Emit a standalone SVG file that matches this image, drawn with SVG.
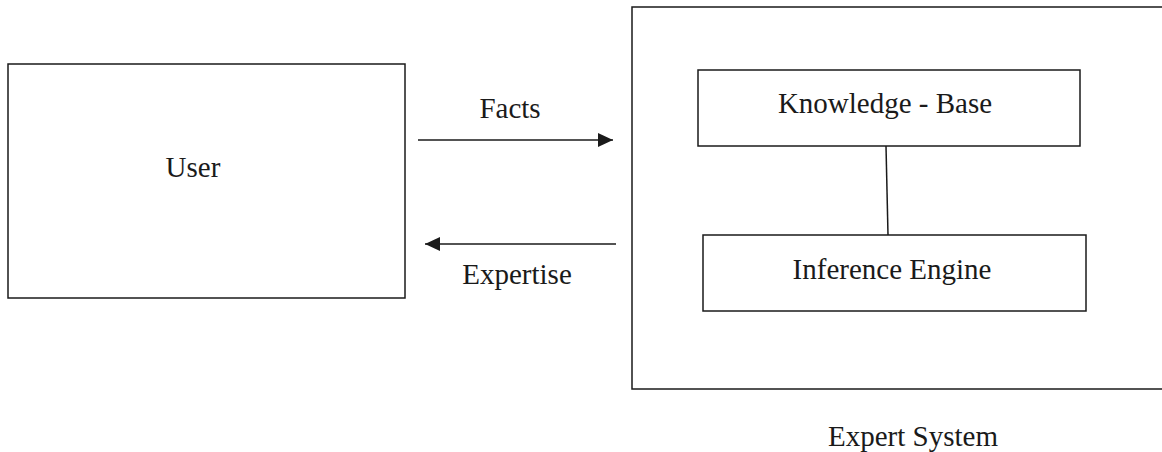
<svg xmlns="http://www.w3.org/2000/svg" width="1162" height="452" viewBox="0 0 1162 452">
<style>
.box{fill:#fff;stroke:#1a1a1a;stroke-width:1.5}
.t{font-family:"Liberation Serif","Times New Roman",serif;font-size:29px;fill:#1a1a1a;text-anchor:middle}
.c{stroke:#1a1a1a;stroke-width:1.5;fill:none}
</style>
<defs>
<marker id="ah" viewBox="0 0 15 14" refX="15" refY="7" markerWidth="15" markerHeight="14" markerUnits="userSpaceOnUse" orient="auto">
<path d="M0,0 L15,7 L0,14 Z" fill="#1a1a1a"/>
</marker>
</defs>
<rect width="1162" height="452" fill="#fff"/>
<g id="user">
<rect class="box" x="8" y="64" width="397" height="234"/>
<text class="t" x="193" y="177">User</text>
</g>
<g id="expert-system">
<rect class="box" x="632" y="7" width="540" height="382"/>
<text class="t" x="913" y="446">Expert System</text>
</g>
<g id="knowledge-base">
<rect class="box" x="698" y="70" width="382" height="76"/>
<text class="t" x="885" y="113">Knowledge - Base</text>
</g>
<g id="inference-engine">
<rect class="box" x="703" y="235" width="383" height="76"/>
<text class="t" x="892" y="279">Inference Engine</text>
</g>
<g id="connectors">
<line class="c" x1="418" y1="140" x2="613" y2="140" marker-end="url(#ah)"/>
<text class="t" x="510" y="118">Facts</text>
<line class="c" x1="616" y1="244" x2="425" y2="244" marker-end="url(#ah)"/>
<text class="t" x="517" y="284">Expertise</text>
<line class="c" x1="886" y1="146" x2="888" y2="235"/>
</g>
</svg>
